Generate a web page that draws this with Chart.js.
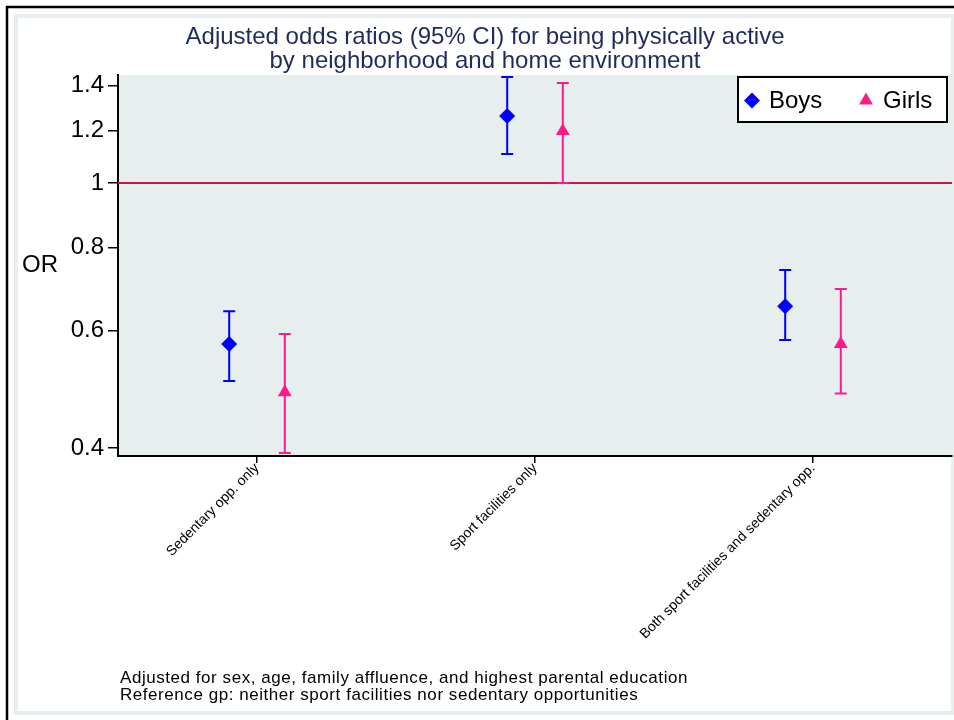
<!DOCTYPE html>
<html>
<head>
<meta charset="utf-8">
<title>Adjusted odds ratios</title>
<script src="https://cdn.jsdelivr.net/npm/chart.js@4.4.0/dist/chart.umd.min.js"></script>
<style>
  html, body { margin:0; padding:0; background:#fff; }
</style>
</head>
<body>
<canvas id="orChart" width="954" height="720"></canvas>
<script>
// data
const categories = ['Sedentary opp. only', 'Sport facilities only', 'Both sport facilities and sedentary opp.'];
const boysOR  = [0.573, 1.261, 0.653];
const boysLo  = [0.504, 1.106, 0.581];
const boysHi  = [0.642, 1.443, 0.740];
const girlsOR = [0.485, 1.197, 0.573];
const girlsLo = [0.393, 1.000, 0.483];
const girlsHi = [0.593, 1.413, 0.693];
const yTicks  = [0.4, 0.6, 0.8, 1, 1.2, 1.4];
const refOR   = 1;
const footnotes = [
  'Adjusted for sex, age, family affluence, and highest parental education',
  'Reference gp: neither sport facilities nor sedentary opportunities'
];

const BLUE = '#0000ff', PINK = '#ff1a8c', PLOTBG = '#e7eeee';
const FONT = '"Liberation Sans", Arial, sans-serif';
const shift = 0.1; // boys left, girls right of the category

Chart.defaults.font.family = FONT;
Chart.defaults.color = '#000';

const pts = (vals, dx) => vals.map((v,i)=>({ x: i+1+dx, y: v }));

const series = [
  { lo: boysLo, hi: boysHi, color: BLUE, dx: -shift },
  { lo: girlsLo, hi: girlsHi, color: PINK, dx: shift }
];

const decor = {
  id: 'decor',
  beforeDraw(chart){
    const {ctx, chartArea:a} = chart;
    ctx.save();
    ctx.fillStyle = '#fff';
    ctx.fillRect(0,0,chart.width,chart.height);
    // outer frame
    ctx.strokeStyle = '#e7eeee'; ctx.lineWidth = 4;
    ctx.strokeRect(16,16,chart.width-16-1,713-16);
    ctx.strokeStyle = '#000'; ctx.lineWidth = 2.5;
    ctx.beginPath(); ctx.moveTo(7,chart.height); ctx.lineTo(7,7); ctx.lineTo(chart.width,7); ctx.stroke();
    // plot background
    ctx.fillStyle = PLOTBG;
    ctx.fillRect(a.left, a.top, a.right-a.left, a.bottom-a.top);
    ctx.restore();
  },
  beforeDatasetsDraw(chart){
    const {ctx, chartArea:a, scales:{x,y}} = chart;
    ctx.save();
    // reference line at OR = 1
    const yr = y.getPixelForValue(refOR);
    ctx.strokeStyle = '#c8174a'; ctx.lineWidth = 2;
    ctx.beginPath(); ctx.moveTo(a.left, yr); ctx.lineTo(a.right, yr); ctx.stroke();
    // CI bars
    series.forEach(s=>{
      ctx.strokeStyle = s.color; ctx.lineWidth = 2;
      s.lo.forEach((lo,i)=>{
        const px = x.getPixelForValue(i+1+s.dx);
        const y1 = y.getPixelForValue(lo), y2 = y.getPixelForValue(s.hi[i]);
        ctx.beginPath();
        ctx.moveTo(px, y1); ctx.lineTo(px, y2);
        ctx.moveTo(px-6, y1); ctx.lineTo(px+6, y1);
        ctx.moveTo(px-6, y2); ctx.lineTo(px+6, y2);
        ctx.stroke();
      });
    });
    ctx.restore();
  },
  afterDraw(chart){
    const {ctx, chartArea:a} = chart;
    ctx.save();
    // y axis name
    ctx.fillStyle = '#000';
    ctx.font = '24px ' + FONT;
    ctx.textAlign = 'center'; ctx.textBaseline = 'middle';
    ctx.fillText('OR', 40, (a.top+a.bottom)/2);
    // footnotes
    ctx.font = '17px ' + FONT;
    ctx.letterSpacing = '0.55px';
    ctx.textAlign = 'left';
    footnotes.forEach((t,i)=> ctx.fillText(t, 120, 678 + i*17));
    ctx.letterSpacing = '0px';
    // legend box, top right inside the plot
    const box = { l: 738, t: 77, r: 947, b: 122 };
    ctx.fillStyle = '#fff';
    ctx.fillRect(box.l, box.t, box.r-box.l, box.b-box.t);
    ctx.strokeStyle = '#000'; ctx.lineWidth = 2;
    ctx.strokeRect(box.l, box.t, box.r-box.l, box.b-box.t);
    const cy = (box.t+box.b)/2 + 1;
    const itemX = [752, 866];
    ctx.font = '24px ' + FONT;
    ctx.textAlign = 'left';
    chart.data.datasets.forEach((ds,i)=>{
      ctx.fillStyle = ds.backgroundColor;
      Chart.helpers.drawPoint(ctx, { pointStyle: ds.pointStyle, radius: 8, borderWidth: 0 }, itemX[i], cy);
      ctx.fillStyle = '#000';
      ctx.fillText(ds.label, itemX[i] + 17, cy + 1);
    });
    ctx.restore();
  }
};

new Chart(document.getElementById('orChart'), {
  type: 'scatter',
  data: {
    datasets: [
      { label:'Boys', data: pts(boysOR, -shift), pointStyle:'rectRot', radius:8,
        backgroundColor: BLUE, borderColor: BLUE, borderWidth:0 },
      { label:'Girls', data: pts(girlsOR, shift), pointStyle:'triangle', radius:8,
        backgroundColor: PINK, borderColor: PINK, borderWidth:0 }
    ]
  },
  options: {
    responsive:false,
    animation:false,
    layout:{ autoPadding:false, padding:{ left:18, right:2, top:0, bottom:0 } },
    plugins:{
      tooltip:{ enabled:false },
      legend:{ display:false },
      title:{
        display:true,
        text:['Adjusted odds ratios (95% CI) for being physically active','by neighborhood and home environment'],
        color:'#1f2b5c',
        font:{ size:24, weight:'normal', lineHeight:1 },
        padding:{ top:25, bottom:2 }
      }
    },
    scales:{
      x:{
        type:'linear', min:0.5, max:3.5,
        afterBuildTicks: s => { s.ticks = categories.map((c,i)=>({ value:i+1 })); },
        afterFit: s => { s.height = 720 - 456; s.paddingLeft = 0; s.paddingRight = 0; },
        ticks:{ minRotation:45, maxRotation:45, autoSkip:false, padding:-3,
          font:{ size:14 }, color:'#000',
          callback: v => categories[v-1] },
        grid:{ drawOnChartArea:false, drawTicks:true, tickLength:7, color:'#000', lineWidth:1.5 },
        border:{ display:true, color:'#000', width:2 }
      },
      y:{
        type:'logarithmic', min:0.389, max:1.453,
        afterBuildTicks: s => { s.ticks = yTicks.map(v=>({ value:v })); },
        afterFit: s => { s.width = 100; },
        ticks:{ font:{ size:24 }, color:'#000', padding:4,
          callback: v => String(v) },
        grid:{ drawOnChartArea:false, drawTicks:true, tickLength:10, color:'#000', lineWidth:1.5 },
        border:{ display:true, color:'#000', width:2 }
      }
    }
  },
  plugins:[decor]
});
</script>
</body>
</html>
